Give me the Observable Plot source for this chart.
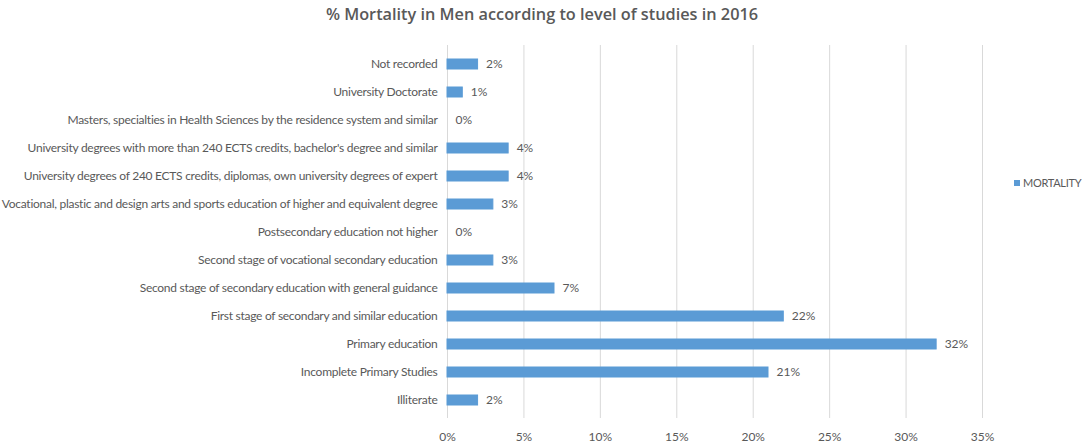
<!DOCTYPE html>
<html>
<head>
<meta charset="utf-8">
<script src="https://cdn.jsdelivr.net/npm/d3@7"></script>
<script src="https://cdn.jsdelivr.net/npm/@observablehq/plot@0.6"></script>
<style>
  html, body { margin: 0; padding: 0; background: #fff; }
  #wrap { position: relative; width: 1084px; height: 444px; }
  #title { height: 30px; line-height: 28px; text-align: center; font-family: "Open Sans", sans-serif; font-weight: 600; font-size: 16.3px; color: #595959; }
  #legend { position: absolute; left: 1014px; top: 176px; font-family: "Lato", sans-serif; font-size: 11px; letter-spacing: -0.3px; color: #595959; display: flex; align-items: center; white-space: nowrap; }
  #legend span.sw { display: inline-block; width: 6px; height: 6px; background: #5b9bd5; margin-right: 3px; }
  #chart svg g[aria-label="y-axis tick label"] text { letter-spacing: -0.27px; }
</style>
</head>
<body>
<div id="wrap">
  <div id="title">% Mortality in Men according to level of studies in 2016</div>
  <div id="chart"></div>
  <div id="legend"><span class="sw"></span>MORTALITY</div>
</div>
<script>
const categories = [
  "Not recorded",
  "University Doctorate",
  "Masters, specialties in Health Sciences by the residence system and similar",
  "University degrees with more than 240 ECTS credits, bachelor's degree and similar",
  "University degrees of 240 ECTS credits, diplomas, own university degrees of expert",
  "Vocational, plastic and design arts and sports education of higher and equivalent degree",
  "Postsecondary education not higher",
  "Second stage of vocational secondary education",
  "Second stage of secondary education with general guidance",
  "First stage of secondary and similar education",
  "Primary education",
  "Incomplete Primary Studies",
  "Illiterate"
];
const mortality = [0.02, 0.01, 0.00, 0.04, 0.04, 0.03, 0.00, 0.03, 0.07, 0.22, 0.32, 0.21, 0.02];
const xTicks = [0, 0.05, 0.10, 0.15, 0.20, 0.25, 0.30, 0.35];
const seriesName = "MORTALITY";

const data = categories.map((c, i) => ({category: c, value: mortality[i]}));
const fmt = d3.format(".0%");
const font = "'Lato', sans-serif";

const chart = Plot.plot({
  width: 1084,
  height: 414,
  marginLeft: 447,
  marginRight: 102,
  marginTop: 15,
  marginBottom: 26,
  style: {fontFamily: font, fontSize: "12px", color: "#595959", background: "#fff"},
  x: {domain: [0, 0.35], ticks: xTicks, tickFormat: fmt, label: null},
  y: {domain: categories, paddingInner: 0.647, paddingOuter: 0.41, label: null},
  marks: [
    Plot.gridX(xTicks, {stroke: "#d9d9d9", strokeOpacity: 1, strokeWidth: 1}),
    Plot.axisX({ticks: xTicks, tickFormat: fmt, tickSize: 0, tickPadding: 14, label: null, fill: "#595959"}),
    Plot.axisY({tickSize: 0, tickPadding: 10, label: null, fill: "#595959"}),
    Plot.barX(data, {x: "value", y: "category", fill: "#5b9bd5", stroke: "#5b9bd5"}),
    Plot.text(data, {x: "value", y: "category", text: d => fmt(d.value), textAnchor: "start", dx: 8, fill: "#595959", fontSize: 12})
  ]
});
document.getElementById("chart").appendChild(chart);
</script>
</body>
</html>
